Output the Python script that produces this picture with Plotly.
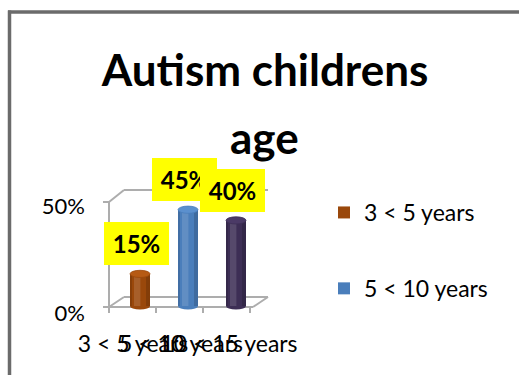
import plotly.graph_objects as go

# ---- data ----
categories = ["3 < 5 years", "5 < 10 years", "10 < 15 years"]
values = [15, 45, 40]
body_colors = ["#9A480B", "#4A7EBB", "#3D2E55"]
top_colors = ["#B65A14", "#5B90CE", "#4B3A66"]
y_tick_vals = [0, 50]
y_tick_text = ["0%", "50%"]
legend_shown = [True, True, False]

# ---- canvas / plot-area geometry (pixels) ----
FIG_W, FIG_H = 519, 375
PL, PR, PT, PB = 100, 280, 185, 320          # plot area edges
CAT0_PX, CAT_STEP_PX = 140, 48               # first category centre, spacing
ZERO_PX, PX_PER_PCT = 306, 2.14              # value axis scale

x_range = [(PL - CAT0_PX) / CAT_STEP_PX, (PR - CAT0_PX) / CAT_STEP_PX]
y_range = [(ZERO_PX - PB) / PX_PER_PCT, (ZERO_PX - PT) / PX_PER_PCT]

BAR_W = 20 / CAT_STEP_PX                     # cylinder diameter in category units
CAP_H = 3.6 / PX_PER_PCT                     # half height of the elliptical caps


def px(x):
    return (x - PL) / (PR - PL)


def py(y):
    return (PB - y) / (PB - PT)


fig = go.Figure()

for i, (cat, v) in enumerate(zip(categories, values)):
    fig.add_trace(go.Bar(
        x=[i], y=[v], name=cat, width=BAR_W,
        marker=dict(color=body_colors[i], line=dict(width=0)),
        showlegend=legend_shown[i], legendgroup=cat,
        hoverinfo="skip",
    ))

shapes = []

# 3-D frame: left wall, back wall and floor outlines
GRID = dict(color="#ADADAD", width=2)
frame_segments = [
    ((109, 307), (109, 202)),
    ((109, 202), (124, 190)),
    ((124, 190), (268, 190)),
    ((109, 307), (124, 297)),
    ((124, 297), (268, 297)),
    ((109, 307), (253, 307)),
    ((253, 307), (268, 297)),
    ((103, 202), (109, 202)),
    ((103, 307), (109, 307)),
]
for xt in (109, 156, 203, 250):
    frame_segments.append(((xt, 307), (xt, 313)))
for (x0, y0), (x1, y1) in frame_segments:
    shapes.append(dict(type="line", xref="paper", yref="paper",
                       x0=px(x0), y0=py(y0), x1=px(x1), y1=py(y1),
                       line=GRID, layer="below"))

# cylinder shading and caps (bottom and top ellipses)
for i, v in enumerate(values):
    shapes.append(dict(type="circle", xref="x", yref="y",
                       x0=i - BAR_W / 2, x1=i + BAR_W / 2,
                       y0=-CAP_H, y1=CAP_H,
                       fillcolor=body_colors[i], line=dict(width=0),
                       layer="below"))
    # soft highlight left of centre, darker rims
    shapes.append(dict(type="rect", xref="x", yref="y",
                       x0=i - BAR_W * 0.30, x1=i + BAR_W * 0.02, y0=0, y1=v,
                       fillcolor="white", opacity=0.13, line=dict(width=0),
                       layer="above"))
    shapes.append(dict(type="rect", xref="x", yref="y",
                       x0=i + BAR_W * 0.30, x1=i + BAR_W * 0.5, y0=0, y1=v,
                       fillcolor="black", opacity=0.15, line=dict(width=0),
                       layer="above"))
    shapes.append(dict(type="rect", xref="x", yref="y",
                       x0=i - BAR_W * 0.5, x1=i - BAR_W * 0.40, y0=0, y1=v,
                       fillcolor="black", opacity=0.12, line=dict(width=0),
                       layer="above"))
    shapes.append(dict(type="circle", xref="x", yref="y",
                       x0=i - BAR_W / 2, x1=i + BAR_W / 2,
                       y0=v - CAP_H, y1=v + CAP_H,
                       fillcolor=top_colors[i],
                       line=dict(width=0.8, color=body_colors[i]),
                       layer="above"))

# chart border (top and left edges)
BORDER = dict(color="#6B6B6B", width=3.5)
shapes.append(dict(type="line", xref="paper", yref="paper",
                   x0=px(8), x1=px(FIG_W + 5), y0=py(12), y1=py(12), line=BORDER))
shapes.append(dict(type="line", xref="paper", yref="paper",
                   x0=px(9.5), x1=px(9.5), y0=py(10.5), y1=py(FIG_H + 5), line=BORDER))

annotations = []
# value labels on yellow boxes
for i, v in enumerate(values):
    annotations.append(dict(
        x=i, y=v, xref="x", yref="y", text=f"{v}%", showarrow=False,
        xanchor="center", yanchor="middle", xshift=-3.5, yshift=30,
        font=dict(family="Lato", size=24, color="black", weight="bold"),
        bgcolor="#FFFF00", width=65, height=43, borderpad=0, borderwidth=0,
    ))

# second title line
annotations.append(dict(
    xref="paper", yref="paper", x=px(264), y=py(137),
    text="age", showarrow=False, xanchor="center", yanchor="middle",
    font=dict(family="Lato", size=44, color="black", weight="bold"),
))

fig.update_layout(
    width=FIG_W, height=FIG_H,
    margin=dict(l=PL, r=FIG_W - PR, t=PT, b=FIG_H - PB, pad=0,
                autoexpand=False),
    paper_bgcolor="white", plot_bgcolor="white",
    title=dict(text="Autism childrens", x=265 / FIG_W, xref="container",
               xanchor="center", y=1 - 71 / FIG_H, yref="container",
               yanchor="middle", automargin=False,
               font=dict(family="Lato", size=44, color="black", weight="bold")),
    barmode="overlay",
    xaxis=dict(range=x_range, tickvals=list(range(len(categories))),
               ticktext=categories, showgrid=False, zeroline=False,
               showline=False, ticks="", ticklabelshift=-7, tickangle=0,
               ticklabelstandoff=8, automargin=False,
               tickfont=dict(family="Lato", size=23, color="black")),
    yaxis=dict(range=y_range, tickvals=y_tick_vals, ticktext=y_tick_text,
               showgrid=False, zeroline=False, showline=False, ticks="",
               ticklabelshift=7, ticklabelstandoff=14, automargin=False,
               tickfont=dict(family="Lato", size=22, color="black")),
    legend=dict(x=px(324), y=py(191), xanchor="left", yanchor="top",
                traceorder="grouped", tracegroupgap=43, maxheight=300,
                font=dict(family="Lato", size=23, color="black"),
                bgcolor="rgba(0,0,0,0)"),
    shapes=shapes, annotations=annotations,
    showlegend=True,
)

fig.write_html("out.html")
